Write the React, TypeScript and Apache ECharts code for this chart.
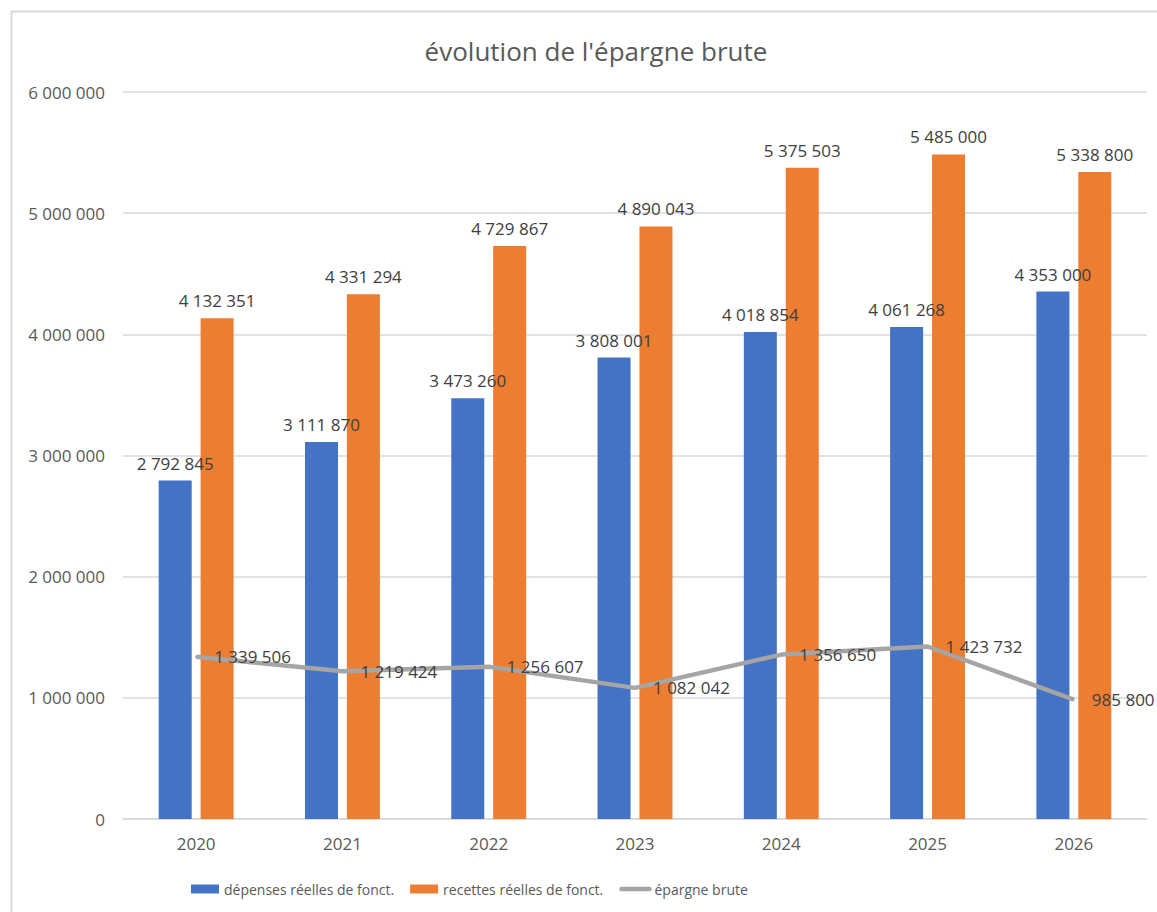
import React, { useEffect, useRef } from "react";
import * as echarts from "echarts";

const years = ["2020", "2021", "2022", "2023", "2024", "2025", "2026"];
const depenses = [2792845, 3111870, 3473260, 3808001, 4018854, 4061268, 4353000];
const recettes = [4132351, 4331294, 4729867, 4890043, 5375503, 5485000, 5338800];
const epargne = [1339506, 1219424, 1256607, 1082042, 1356650, 1423732, 985800];

const fmt = (v: number) => String(Math.round(v)).replace(/\B(?=(\d{3})+(?!\d))/g, " ");
const FONT = "Open Sans";

export default function App() {
  const ref = useRef<HTMLDivElement>(null);
  useEffect(() => {
    document.body.style.margin = "0";
    const chart = echarts.init(ref.current!, null, { renderer: "svg" });
    const dataLabel = {
      show: true,
      fontFamily: FONT,
      fontSize: 17,
      color: "#404040",
      formatter: (p: any) => fmt(p.value),
    };
    chart.setOption({
      animation: false,
      backgroundColor: "#ffffff",
      textStyle: { fontFamily: FONT },
      title: {
        text: "évolution de l'épargne brute",
        left: 591,
        textAlign: "center",
        top: 33,
        textStyle: { fontFamily: FONT, fontSize: 26, fontWeight: "normal", color: "#595959" },
      },
      graphic: [
        {
          type: "rect",
          shape: { x: 11.5, y: 11.5, width: 1160, height: 910 },
          style: { fill: "none", stroke: "#d9d9d9", lineWidth: 2 },
          silent: true,
        },
      ],
      legend: {
        left: 186,
        top: 877,
        itemWidth: 28,
        itemHeight: 9,
        itemGap: 16,
        textStyle: { fontFamily: FONT, fontSize: 14, color: "#595959" },
        data: [
          { name: "dépenses réelles de fonct.", icon: "rect" },
          { name: "recettes réelles de fonct.", icon: "rect" },
          { name: "épargne brute", itemStyle: { opacity: 0 }, lineStyle: { width: 4.5, color: "#a5a5a5", cap: "round" } },
        ],
      },
      grid: { left: 123, right: 10, top: 92, bottom: 93, containLabel: false },
      xAxis: {
        type: "category",
        data: years,
        axisLine: { lineStyle: { color: "#d9d9d9", width: 1.5 } },
        axisTick: { show: false },
        axisLabel: { fontFamily: FONT, fontSize: 17, color: "#595959", margin: 16 },
      },
      yAxis: {
        type: "value",
        min: 0,
        max: 6000000,
        interval: 1000000,
        axisLine: { show: false },
        axisTick: { show: false },
        splitLine: { lineStyle: { color: "#d9d9d9", width: 1.5 } },
        axisLabel: {
          fontFamily: FONT,
          fontSize: 17,
          color: "#595959",
          margin: 18,
          formatter: (v: number) => fmt(v),
        },
      },
      series: [
        {
          name: "dépenses réelles de fonct.",
          type: "bar",
          data: depenses,
          barWidth: 33,
          barGap: "27%",
          itemStyle: { color: "#4472c4" },
          label: { ...dataLabel, position: "top", distance: 9 },
        },
        {
          name: "recettes réelles de fonct.",
          type: "bar",
          data: recettes,
          barWidth: 33,
          itemStyle: { color: "#ed7d31" },
          label: { ...dataLabel, position: "top", distance: 9 },
        },
        {
          name: "épargne brute",
          type: "line",
          data: epargne,
          symbol: "circle",
          symbolSize: 2,
          showSymbol: true,
          z: 5,
          lineStyle: { color: "#a5a5a5", width: 4.5 },
          itemStyle: { color: "#a5a5a5" },
          labelLayout: { hideOverlap: false },
          label: { ...dataLabel, position: "right", distance: 17 },
        },
      ],
    });
    return () => chart.dispose();
  }, []);
  return <div ref={ref} style={{ position: "absolute", left: 0, top: 0, width: 1157, height: 912 }} />;
}
